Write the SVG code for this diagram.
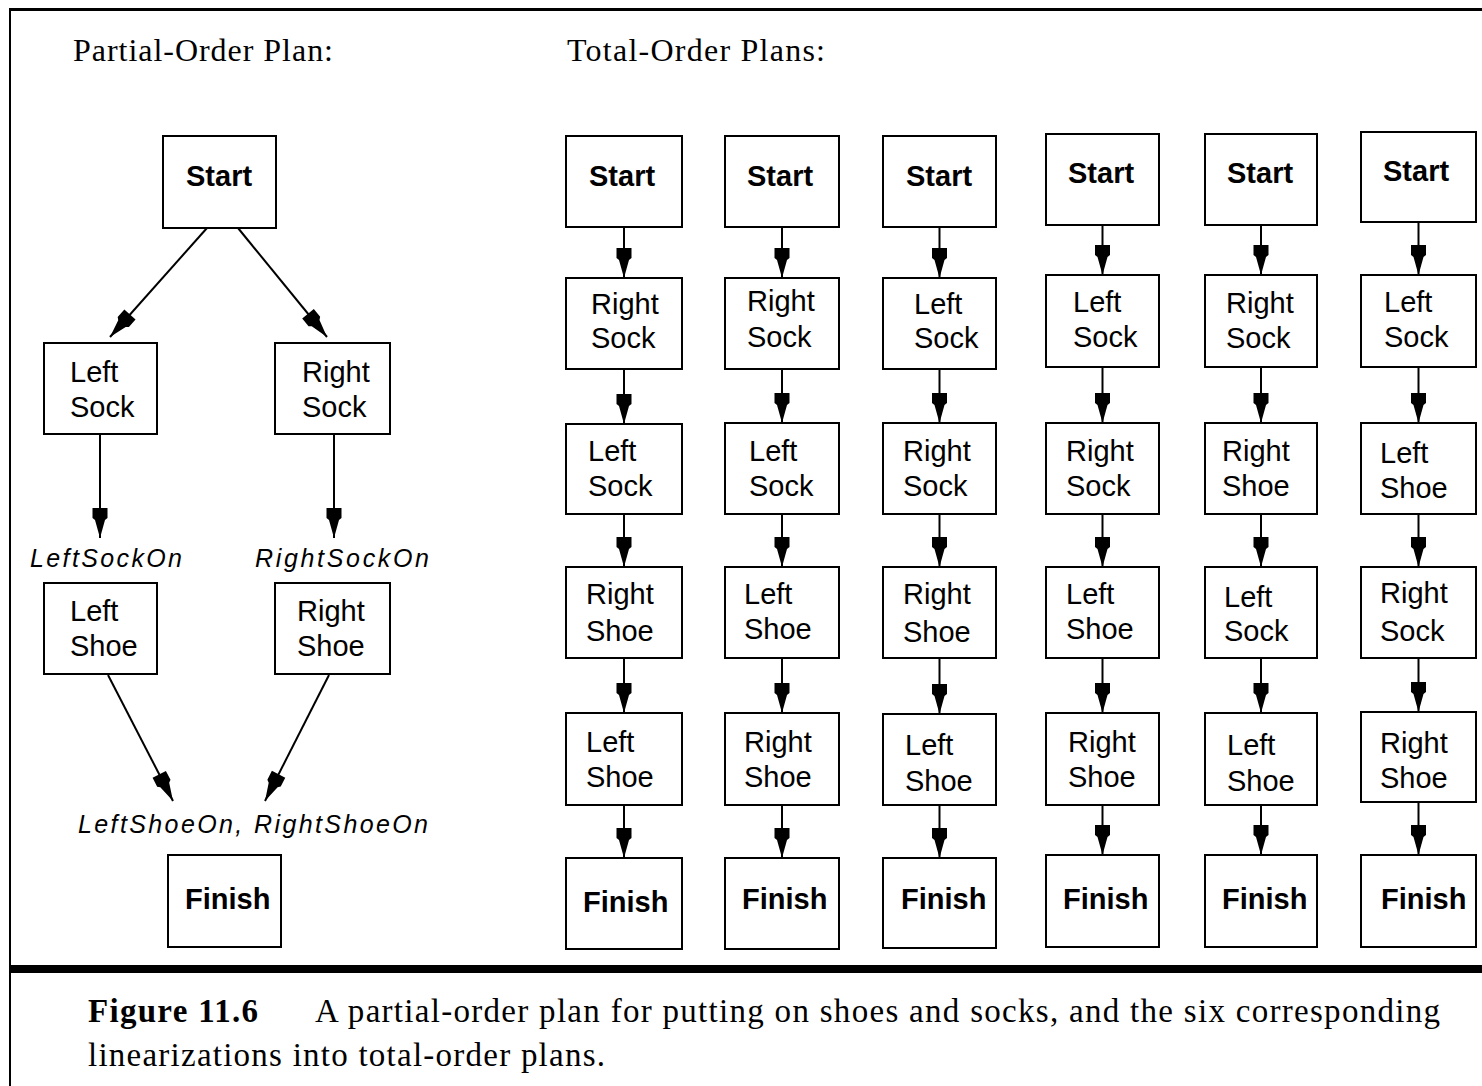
<svg xmlns="http://www.w3.org/2000/svg" width="1482" height="1086" viewBox="0 0 1482 1086">
<style>
.box{fill:#fff;stroke:#000;stroke-width:2}
.lbl{font-family:"Liberation Sans",Arial,sans-serif;font-size:29px;fill:#000}
.b{font-weight:bold}
.it{font-family:"Liberation Sans",Arial,sans-serif;font-size:25px;font-style:italic;fill:#000}
.hdr{font-family:"Liberation Serif","Times New Roman",serif;font-size:32px;fill:#000}
.cap{font-family:"Liberation Serif","Times New Roman",serif;font-size:33px;fill:#000}
.edge{stroke:#000;stroke-width:2;fill:none;marker-end:url(#ah)}
</style>
<defs>
<marker id="ah" markerUnits="userSpaceOnUse" markerWidth="32" markerHeight="18" viewBox="-31 -9 32 18" refX="0" refY="0" orient="auto">
<path d="M0,0 L-18,-5 L-20,-7.5 L-30,-7.5 L-30,7.5 L-20,7.5 L-18,5 Z" fill="#000"/>
</marker>
</defs>
<rect width="1482" height="1086" fill="#fff"/>
<g id="frame">
<line x1="10" y1="8" x2="10" y2="1086" stroke="#000" stroke-width="2"/>
<line x1="9" y1="9.5" x2="1482" y2="9.5" stroke="#000" stroke-width="3"/>
<line x1="9" y1="969" x2="1482" y2="969" stroke="#000" stroke-width="8"/>
</g>
<g id="headers">
<text class="hdr" x="73" y="61" textLength="260">Partial-Order Plan:</text>
<text class="hdr" x="567" y="61" textLength="258">Total-Order Plans:</text>
</g>
<g id="connectors">
<line class="edge" x1="207" y1="228" x2="110" y2="337"/>
<line class="edge" x1="238" y1="228" x2="327" y2="337"/>
<line class="edge" x1="100" y1="434" x2="100" y2="538"/>
<line class="edge" x1="334" y1="434" x2="334" y2="538"/>
<line class="edge" x1="108" y1="675" x2="173" y2="801"/>
<line class="edge" x1="329" y1="675" x2="265" y2="801"/>
<path class="edge" d="M624,227 V278"/><path class="edge" d="M624,369 V424"/><path class="edge" d="M624,514 V567"/><path class="edge" d="M624,658 V713"/><path class="edge" d="M624,805 V858"/>
<path class="edge" d="M782,227 V278"/><path class="edge" d="M782,369 V423"/><path class="edge" d="M782,514 V567"/><path class="edge" d="M782,658 V713"/><path class="edge" d="M782,805 V858"/>
<path class="edge" d="M939.5,227 V278"/><path class="edge" d="M939.5,369 V423"/><path class="edge" d="M939.5,514 V567"/><path class="edge" d="M939.5,658 V714"/><path class="edge" d="M939.5,805 V858"/>
<path class="edge" d="M1102.5,225 V275"/><path class="edge" d="M1102.5,367 V423"/><path class="edge" d="M1102.5,514 V567"/><path class="edge" d="M1102.5,658 V713"/><path class="edge" d="M1102.5,805 V855"/>
<path class="edge" d="M1261,225 V275"/><path class="edge" d="M1261,367 V423"/><path class="edge" d="M1261,514 V567"/><path class="edge" d="M1261,658 V713"/><path class="edge" d="M1261,805 V855"/>
<path class="edge" d="M1418.5,222 V275"/><path class="edge" d="M1418.5,367 V423"/><path class="edge" d="M1418.5,514 V567"/><path class="edge" d="M1418.5,658 V712"/><path class="edge" d="M1418.5,802 V855"/>
</g>
<g id="conditions">
<text class="it" x="30" y="567" textLength="152">LeftSockOn</text>
<text class="it" x="255" y="567" textLength="174">RightSockOn</text>
<text class="it" x="78" y="833" textLength="350">LeftShoeOn, RightShoeOn</text>
</g>
<g id="p-start"><rect class="box" x="163" y="136" width="113" height="92"/><text class="lbl b" x="186" y="186">Start</text></g>
<g id="p-leftsock"><rect class="box" x="44" y="343" width="113" height="91"/><text class="lbl" x="70" y="382">Left</text><text class="lbl" x="70" y="417">Sock</text></g>
<g id="p-rightsock"><rect class="box" x="275" y="343" width="115" height="91"/><text class="lbl" x="302" y="382">Right</text><text class="lbl" x="302" y="417">Sock</text></g>
<g id="p-leftshoe"><rect class="box" x="44" y="583" width="113" height="91"/><text class="lbl" x="70" y="621">Left</text><text class="lbl" x="70" y="656">Shoe</text></g>
<g id="p-rightshoe"><rect class="box" x="275" y="583" width="115" height="91"/><text class="lbl" x="297" y="621">Right</text><text class="lbl" x="297" y="656">Shoe</text></g>
<g id="p-finish"><rect class="box" x="168" y="855" width="113" height="92"/><text class="lbl b" x="185" y="909">Finish</text></g>

<g id="c1-start"><rect class="box" x="566" y="136" width="116" height="91"/><text class="lbl b" x="589" y="186">Start</text></g>
<g id="c1-n1"><rect class="box" x="566" y="278" width="116" height="91"/><text class="lbl" x="591" y="314">Right</text><text class="lbl" x="591" y="348">Sock</text></g>
<g id="c1-n2"><rect class="box" x="566" y="424" width="116" height="90"/><text class="lbl" x="588" y="461">Left</text><text class="lbl" x="588" y="496">Sock</text></g>
<g id="c1-n3"><rect class="box" x="566" y="567" width="116" height="91"/><text class="lbl" x="586" y="604">Right</text><text class="lbl" x="586" y="641">Shoe</text></g>
<g id="c1-n4"><rect class="box" x="566" y="713" width="116" height="92"/><text class="lbl" x="586" y="752">Left</text><text class="lbl" x="586" y="787">Shoe</text></g>
<g id="c1-finish"><rect class="box" x="566" y="858" width="116" height="91"/><text class="lbl b" x="583" y="912">Finish</text></g>

<g id="c2-start"><rect class="box" x="725" y="136" width="114" height="91"/><text class="lbl b" x="747" y="186">Start</text></g>
<g id="c2-n1"><rect class="box" x="725" y="278" width="114" height="91"/><text class="lbl" x="747" y="311">Right</text><text class="lbl" x="747" y="347">Sock</text></g>
<g id="c2-n2"><rect class="box" x="725" y="423" width="114" height="91"/><text class="lbl" x="749" y="461">Left</text><text class="lbl" x="749" y="496">Sock</text></g>
<g id="c2-n3"><rect class="box" x="725" y="567" width="114" height="91"/><text class="lbl" x="744" y="604">Left</text><text class="lbl" x="744" y="639">Shoe</text></g>
<g id="c2-n4"><rect class="box" x="725" y="713" width="114" height="92"/><text class="lbl" x="744" y="752">Right</text><text class="lbl" x="744" y="787">Shoe</text></g>
<g id="c2-finish"><rect class="box" x="725" y="858" width="114" height="91"/><text class="lbl b" x="742" y="909">Finish</text></g>

<g id="c3-start"><rect class="box" x="883" y="136" width="113" height="91"/><text class="lbl b" x="906" y="186">Start</text></g>
<g id="c3-n1"><rect class="box" x="883" y="278" width="113" height="91"/><text class="lbl" x="914" y="314">Left</text><text class="lbl" x="914" y="348">Sock</text></g>
<g id="c3-n2"><rect class="box" x="883" y="423" width="113" height="91"/><text class="lbl" x="903" y="461">Right</text><text class="lbl" x="903" y="496">Sock</text></g>
<g id="c3-n3"><rect class="box" x="883" y="567" width="113" height="91"/><text class="lbl" x="903" y="604">Right</text><text class="lbl" x="903" y="642">Shoe</text></g>
<g id="c3-n4"><rect class="box" x="883" y="714" width="113" height="91"/><text class="lbl" x="905" y="755">Left</text><text class="lbl" x="905" y="791">Shoe</text></g>
<g id="c3-finish"><rect class="box" x="883" y="858" width="113" height="90"/><text class="lbl b" x="901" y="909">Finish</text></g>

<g id="c4-start"><rect class="box" x="1046" y="134" width="113" height="91"/><text class="lbl b" x="1068" y="183">Start</text></g>
<g id="c4-n1"><rect class="box" x="1046" y="275" width="113" height="92"/><text class="lbl" x="1073" y="312">Left</text><text class="lbl" x="1073" y="347">Sock</text></g>
<g id="c4-n2"><rect class="box" x="1046" y="423" width="113" height="91"/><text class="lbl" x="1066" y="461">Right</text><text class="lbl" x="1066" y="496">Sock</text></g>
<g id="c4-n3"><rect class="box" x="1046" y="567" width="113" height="91"/><text class="lbl" x="1066" y="604">Left</text><text class="lbl" x="1066" y="639">Shoe</text></g>
<g id="c4-n4"><rect class="box" x="1046" y="713" width="113" height="92"/><text class="lbl" x="1068" y="752">Right</text><text class="lbl" x="1068" y="787">Shoe</text></g>
<g id="c4-finish"><rect class="box" x="1046" y="855" width="113" height="92"/><text class="lbl b" x="1063" y="909">Finish</text></g>

<g id="c5-start"><rect class="box" x="1205" y="134" width="112" height="91"/><text class="lbl b" x="1227" y="183">Start</text></g>
<g id="c5-n1"><rect class="box" x="1205" y="275" width="112" height="92"/><text class="lbl" x="1226" y="313">Right</text><text class="lbl" x="1226" y="348">Sock</text></g>
<g id="c5-n2"><rect class="box" x="1205" y="423" width="112" height="91"/><text class="lbl" x="1222" y="461">Right</text><text class="lbl" x="1222" y="496">Shoe</text></g>
<g id="c5-n3"><rect class="box" x="1205" y="567" width="112" height="91"/><text class="lbl" x="1224" y="607">Left</text><text class="lbl" x="1224" y="641">Sock</text></g>
<g id="c5-n4"><rect class="box" x="1205" y="713" width="112" height="92"/><text class="lbl" x="1227" y="755">Left</text><text class="lbl" x="1227" y="791">Shoe</text></g>
<g id="c5-finish"><rect class="box" x="1205" y="855" width="112" height="92"/><text class="lbl b" x="1222" y="909">Finish</text></g>

<g id="c6-start"><rect class="box" x="1361" y="132" width="115" height="90"/><text class="lbl b" x="1383" y="181">Start</text></g>
<g id="c6-n1"><rect class="box" x="1361" y="275" width="115" height="92"/><text class="lbl" x="1384" y="312">Left</text><text class="lbl" x="1384" y="347">Sock</text></g>
<g id="c6-n2"><rect class="box" x="1361" y="423" width="115" height="91"/><text class="lbl" x="1380" y="463">Left</text><text class="lbl" x="1380" y="498">Shoe</text></g>
<g id="c6-n3"><rect class="box" x="1361" y="567" width="115" height="91"/><text class="lbl" x="1380" y="603">Right</text><text class="lbl" x="1380" y="641">Sock</text></g>
<g id="c6-n4"><rect class="box" x="1361" y="712" width="115" height="90"/><text class="lbl" x="1380" y="753">Right</text><text class="lbl" x="1380" y="788">Shoe</text></g>
<g id="c6-finish"><rect class="box" x="1361" y="855" width="115" height="92"/><text class="lbl b" x="1381" y="909">Finish</text></g>

<g id="caption">
<text class="cap" x="88" y="1022" font-weight="bold" textLength="170">Figure 11.6</text>
<text class="cap" x="315" y="1022" textLength="1125">A partial-order plan for putting on shoes and socks, and the six corresponding</text>
<text class="cap" x="88" y="1066" textLength="517">linearizations into total-order plans.</text>
</g>
</svg>
